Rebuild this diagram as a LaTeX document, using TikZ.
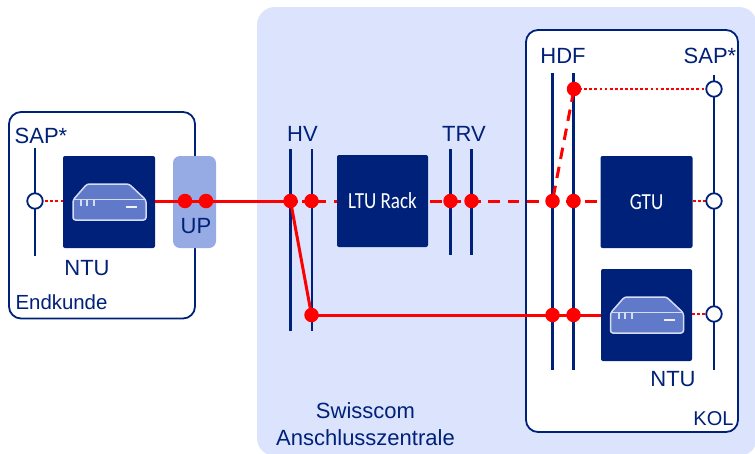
\documentclass[tikz,border=0pt]{standalone}
\usepackage{fontspec}
\setmainfont{Liberation Sans}
\newfontfamily\thinfont{Carlito}
\definecolor{navy}{HTML}{002179}
\definecolor{zonebg}{HTML}{DCE4FD}
\definecolor{upblue}{HTML}{96ABE3}
\definecolor{iconblue}{HTML}{6079C9}
\definecolor{iconline}{HTML}{D5DCF5}
\definecolor{linered}{HTML}{FF0000}
% router picture, centred on the given point
\newcommand{\routericon}[2]{
    \begin{scope}[shift={(#1,#2)}]
        \filldraw[draw=iconline, fill=iconblue, line width=1.5pt, rounded corners=2.5pt]
            (-36,-1) -- (-22,-17) -- (20,-17) -- (37,-1) -- (37,19) -- (-36,19) -- cycle;
        \draw[iconline, line width=.9pt] (-35,-2) -- (36,-2);
        \draw[iconline, line width=2pt] (-28,-1) -- (-28,5) (-22,-1) -- (-22,5) (-15,-1) -- (-15,5);
        \draw[white!90!iconblue, line width=2.2pt] (17,6) -- (28,6);
    \end{scope}
}
\begin{document}
\begin{tikzpicture}[x=1pt, y=-1pt]
\tikzstyle{zone} = [draw=navy, fill=white, line width=1.8pt, rounded corners=12pt]
\tikzstyle{box} = [fill=navy, rounded corners=2pt, minimum width=92pt, minimum height=92pt, inner sep=0pt, text=white]
\tikzstyle{bar} = [draw=navy, line width=2.6pt]
\tikzstyle{dot} = [circle, fill=linered, minimum size=14.5pt, inner sep=0pt]
\tikzstyle{sap} = [circle, draw=navy, fill=white, line width=1.8pt, minimum size=15.5pt, inner sep=0pt]
\tikzstyle{label} = [text=navy, font=\fontsize{22}{27}\selectfont, inner sep=0pt]
\tikzstyle{solidline} = [draw=linered, line width=3pt]
\tikzstyle{dashline} = [solidline, dash pattern=on 11.5pt off 7.9pt]
\tikzstyle{dotline} = [draw=linered, line width=2.8pt, dash pattern=on 2.8pt off 2.3pt]
\useasboundingbox (0,0) rectangle (755,453);

% background areas
\fill[zonebg, rounded corners=18pt] (257,7) rectangle (757,456);
\draw[zone] (9,112) rectangle (195,318.5);
\draw[zone] (526,30) rectangle (738,432);

% vertical bars
\coordinate (sapLtop) at (35,148);
\coordinate (sapLbot) at (35,256);
\coordinate (hvAtop) at (290.7,149);
\coordinate (hvAbot) at (290.7,331);
\coordinate (hvBtop) at (312,149);
\coordinate (hvBbot) at (312,331);
\coordinate (trvAtop) at (450.5,149);
\coordinate (trvAbot) at (450.5,255);
\coordinate (trvBtop) at (471.5,149);
\coordinate (trvBbot) at (471.5,255);
\coordinate (hdfAtop) at (552.7,73);
\coordinate (hdfAbot) at (552.7,370);
\coordinate (hdfBtop) at (573.5,73);
\coordinate (hdfBbot) at (573.5,370);
\coordinate (sapRtop) at (714,75);
\coordinate (sapRbot) at (714,370);
\draw[bar] (sapLtop) -- (sapLbot);
\draw[bar] (hvAtop) -- (hvAbot);
\draw[bar] (hvBtop) -- (hvBbot);
\draw[bar] (trvAtop) -- (trvAbot);
\draw[bar] (trvBtop) -- (trvBbot);
\draw[bar] (hdfAtop) -- (hdfAbot);
\draw[bar] (hdfBtop) -- (hdfBbot);
\draw[bar] (sapRtop) -- (sapRbot);

% boxes
\node[box] (ntuL) at (109,202) {};
\node[box, fill=upblue, minimum width=43pt, rounded corners=7pt] (up) at (194.5,202) {};
\node[box, minimum width=91pt] (rack) at (382.5,201) {\thinfont\fontsize{23}{24}\selectfont\scalebox{.83}[1]{LTU Rack}};
\node[box] (gtu) at (646.5,202) {\thinfont\fontsize{23}{24}\selectfont\scalebox{.83}[1]{GTU}};
\node[box, minimum width=91pt] (ntuR) at (646.5,315) {};
\routericon{109}{201}
\routericon{646.5}{314}

% points on the lines
\coordinate (sapL) at (35,201);
\coordinate (sapA) at (714,89);
\coordinate (sapB) at (714,201);
\coordinate (sapC) at (714,314);
\coordinate (upA) at (185,201);
\coordinate (upB) at (206,201);
\coordinate (hvA) at (290.5,201);
\coordinate (hvB) at (311.5,201);
\coordinate (hvC) at (311.5,315);
\coordinate (trvA) at (450.5,201);
\coordinate (trvB) at (471.5,201);
\coordinate (hdfA) at (552.5,201);
\coordinate (hdfB) at (573.5,201);
\coordinate (hdfC) at (574,89);
\coordinate (hdfD) at (552.5,315);
\coordinate (hdfE) at (573.5,315);

% connections
\draw[dotline] (sapL) -- (sapL -| ntuL.west);
\draw[solidline] (upA -| ntuL.east) -- (upA);
\draw[solidline] (upA) -- (upB);
\draw[solidline] (upB) -- (hvA);
\draw[solidline] (hvA) -- (hvC);
\draw[solidline] (hvC) -- (hdfD);
\draw[solidline] (hdfD) -- (hdfE);
\draw[solidline] (hdfE) -- (hdfE -| ntuR.west);
\draw[solidline, dash pattern=on 7pt off 4.5pt on 30pt off 0pt] (hvA) -- (hvB);
\draw[solidline, dash pattern=on 14pt off 8pt] (hvB) -- (hvB -| rack.west);
\draw[dashline, dash phase=17.4pt] (hvB -| rack.east) -- (hdfB -| gtu.west);
\draw[dashline, dash phase=15.4pt] (hdfA) -- (hdfC);
\draw[dotline] (hdfC) -- (sapA);
\draw[dotline] (sapB -| gtu.east) -- (sapB);
\draw[dotline] (sapC -| ntuR.east) -- (sapC);
\foreach \p in {upA,upB,hvA,hvB,hvC,trvA,trvB,hdfA,hdfB,hdfC,hdfD,hdfE}
    \node[dot] at (\p) {};
\foreach \p in {sapL,sapA,sapB,sapC}
    \node[sap] at (\p) {};

% labels
\node[label] (sapLtxt) at (41,136) {SAP*};
\node[label] (ntuLtxt) at (87,268) {NTU};
\node[label] (uptxt) at (196,226) {UP};
\node[label, font=\fontsize{20.4}{24}\selectfont] (endtxt) at (61.5,302) {Endkunde};
\node[label] (hvtxt) at (302.5,134) {HV};
\node[label] (trvtxt) at (464,134) {TRV};
\node[label] (hdftxt) at (563,56) {HDF};
\node[label] (sapRtxt) at (710,56) {SAP*};
\node[label] (ntuRtxt) at (673,379) {NTU};
\node[label, font=\fontsize{20}{24}\selectfont] (koltxt) at (713.5,419) {KOL};
\node[label, align=center] (zentrale) at (365.5,424) {Swisscom\\Anschlusszentrale};
\end{tikzpicture}
\end{document}
